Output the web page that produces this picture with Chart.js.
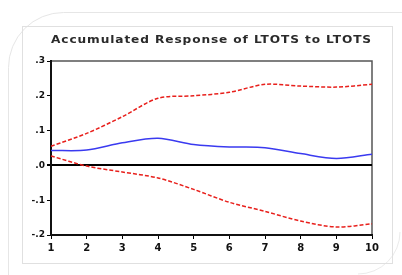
<!DOCTYPE html>
<html><head><meta charset="utf-8">
<script src="https://cdn.jsdelivr.net/npm/chart.js@4.4.1/dist/chart.umd.min.js"></script>
<style>html,body{margin:0;padding:0;background:#fff;}#wrap{width:402px;height:275px;position:relative;}</style>
</head><body><div id="wrap"><canvas id="c" width="402" height="275"></canvas></div>
<script>
const periods = ['1','2','3','4','5','6','7','8','9','10'];
const responseValues = [0.043, 0.044, 0.065, 0.078, 0.060, 0.053, 0.051, 0.034, 0.020, 0.032];
const upperBand = [0.055, 0.092, 0.140, 0.193, 0.200, 0.210, 0.233, 0.228, 0.225, 0.233];
const lowerBand = [0.027, -0.002, -0.019, -0.036, -0.069, -0.106, -0.132, -0.160, -0.177, -0.168];
const yTickLabels = {'0.3':'.3','0.2':'.2','0.1':'.1','0':'.0','-0.1':'-.1','-0.2':'-.2'};
const titleText = 'Accumulated Response of LTOTS to LTOTS';

const decor = {
  id:'decor',
  beforeDraw(chart){
    const ctx = chart.ctx;
    ctx.save();
    ctx.fillStyle='#fff';ctx.fillRect(0,0,402,275);
    ctx.strokeStyle='#e6e6e6';ctx.lineWidth=1;
    ctx.beginPath();
    ctx.roundRect(8.5,12.5,430,320,[55,0,55,0]);
    ctx.stroke();
    ctx.beginPath();
    ctx.arc(358,232,42,0,Math.PI/2);
    ctx.strokeStyle='#ebebeb';
    ctx.stroke();
    ctx.strokeStyle='#e0e0e0';
    ctx.strokeRect(22.5,26.5,370,237);
    const a = chart.chartArea;
    ctx.strokeStyle='#555';ctx.lineWidth=1.5;
    ctx.strokeRect(a.left,a.top,a.right-a.left,a.bottom-a.top);
    // title text, stretched horizontally to span the plot width
    ctx.font='bold 11px "DejaVu Sans"';
    ctx.fillStyle='#2a2a2a';
    ctx.textBaseline='middle';ctx.textAlign='left';
    const target = a.right - a.left;
    ctx.letterSpacing='0.8px';
    const w0 = ctx.measureText(titleText).width;
    const sx = target / w0;
    ctx.translate(a.left, 40);
    ctx.scale(sx, 1);
    ctx.fillText(titleText, 0, 0);
    ctx.restore();
  }
};

new Chart(document.getElementById('c'),{
  type:'line',
  data:{labels:periods,datasets:[
    {data:upperBand,borderColor:'#e8201c',borderWidth:1.5,borderDash:[4,2],pointRadius:0,tension:0.3,fill:false},
    {data:lowerBand,borderColor:'#e8201c',borderWidth:1.5,borderDash:[4,2],pointRadius:0,tension:0.3,fill:false},
    {data:responseValues,borderColor:'#3a3af0',borderWidth:1.5,pointRadius:0,tension:0.3,fill:false}
  ]},
  options:{
    responsive:false,animation:false,devicePixelRatio:1,
    layout:{padding:{left:0,right:30,top:61,bottom:0}},
    plugins:{legend:{display:false},tooltip:{enabled:false},title:{display:false}},
    scales:{
      x:{offset:false,
        grid:{display:true,drawOnChartArea:false,tickLength:4,color:'#000',lineWidth:1},
        border:{display:true,color:'#111',width:2},
        ticks:{color:'#111',font:{family:'DejaVu Sans',size:10,weight:'bold'},padding:3,maxRotation:0,autoSkip:false},
        afterFit(s){s.height=40;}
      },
      y:{min:-0.2,max:0.3,
        grid:{drawOnChartArea:true,tickLength:4,
          color:(c)=>c.tick && Math.abs(c.tick.value)<1e-9 ? '#000':'rgba(0,0,0,0)',
          lineWidth:(c)=>c.tick && Math.abs(c.tick.value)<1e-9 ? 2:1,
          tickColor:'#000'},
        border:{display:true,color:'#111',width:2},
        ticks:{stepSize:0.1,color:'#111',font:{family:'DejaVu Sans',size:9,weight:'bold'},padding:2,
          callback:(v)=>{const k=String(Math.round(v*10)/10);return yTickLabels[k]!==undefined?yTickLabels[k]:'';}},
        afterFit(s){s.width=51;}
      }
    }
  },
  plugins:[decor]
});
</script></body></html>
